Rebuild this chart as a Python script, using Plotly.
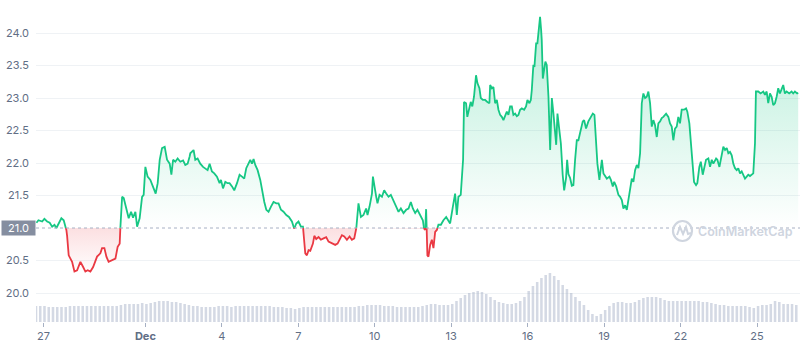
import numpy as np
import pandas as pd
import plotly.graph_objects as go

# ---------------- data ----------------
START = pd.Timestamp("2021-11-27 00:00")
BASELINE = 21.0

# hours offset from START for each price sample
price_hours = [-6.6,-4.7,-1.2,0.9,3.5,5.9,8.2,10.4,12.2,14.4,16.9,19.1,20.7,21.6,22.3,23.8,27.0,29.2,31.7,34.8,
37.4,39.5,41.7,44.2,46.8,48.9,50.5,53.6,55.2,57.4,59.3,61.4,64.6,67.8,69.9,71.8,72.5,74.1,75.6,78.1,
80.3,82.5,84.4,86.6,88.2,90.6,92.9,94.4,96.0,98.1,100.7,103.8,105.7,107.6,109.5,111.7,114.2,116.4,118.9,120.5,
122.1,124.2,126.4,128.9,131.5,133.6,135.8,137.7,
138.3,141.4,143.0,145.2,147.7,150.3,152.4,154.6,156.5,158.7,160.9,163.4,165.9,167.2,169.1,171.3,173.4,175.3,177.6,179.7,
182.3,184.7,187.0,189.1,191.0,193.2,194.8,196.4,197.9,199.5,201.7,204.2,205.8,208.0,209.9,212.0,214.3,216.7,219.3,221.4,
223.7,226.1,228.7,231.2,234.0,236.2,238.1,240.2,242.5,244.4,245.6,246.6,248.1,249.7,251.3,253.8,255.1,256.9,259.1,261.3,
263.8,266.3,268.5,271.7,274.8,277.0,279.5,281.1,283.3,285.8,288.3,
290.5,292.7,294.5,295.8,296.7,299.0,301.4,303.9,305.2,307.1,309.4,310.3,311.5,313.4,314.6,316.5,318.8,320.9,322.8,325.0,
327.2,329.7,332.2,334.4,336.6,339.1,341.6,343.8,346.0,347.9,350.1,352.2,354.8,357.3,358.5,359.5,360.4,361.1,361.6,362.6,
364.2,365.8,367.3,368.9,370.5,372.0,374.3,376.7,379.3,381.4,383.0,385.6,387.7,389.3,390.8,393.0,393.9,
395.2,396.1,398.0,399.2,401.1,402.4,403.9,405.5,407.4,408.7,410.6,411.9,413.8,416.0,418.1,420.0,420.7,422.3,423.8,425.4,
427.0,428.5,430.1,431.7,433.2,434.8,436.4,437.9,439.5,441.1,442.6,444.2,445.8,447.3,448.9,450.5,452.7,454.5,455.8,457.7,
459.0,459.9,461.4,462.4,464.0,465.2,467.1,467.7,468.7,469.3,470.3,471.5,472.7,474.0,475.6,477.2,478.8,480.3,481.9,482.9,
484.1,486.0,487.3,
489.0,490.4,492.2,493.2,494.4,496.0,497.6,499.1,500.7,502.3,503.8,506.1,507.9,509.2,511.0,513.2,515.4,517.4,518.9,520.5,
521.7,523.6,525.9,527.4,529.0,530.6,533.0,534.4,536.2,537.5,539.4,541.5,543.1,544.7,546.2,547.8,549.4,550.9,552.5,554.1,
555.6,557.2,558.8,560.3,561.9,563.5,565.0,566.6,568.2,569.7,571.3,572.9,574.4,576.0,577.6,579.1,580.7,582.3,583.8,586.4,
588.5,590.1,591.7,593.2,594.8,596.4,597.9,599.5,
601.1,603.3,605.2,606.4,608.3,609.6,611.5,612.7,614.6,615.8,617.7,619.1,620.9,622.2,624.0,626.2,627.8,629.4,630.9,633.5,
634.7,636.6,638.8,640.3,641.9,643.5,645.0,646.6,648.2,649.7,651.3,652.9,654.4,656.0,657.6,659.1,660.7,662.3,663.8,665.4,
667.0,668.5,670.1,671.0,673.2,675.4,677.9,679.5,681.1,682.6,684.2,685.8,687.3,688.9,690.5,692.0,693.6,695.2,696.7,698.3,
699.9,702.3,704.6,706.1,707.7,709.8,710.8]

prices = [21.08,21.12,21.10,21.14,21.10,21.08,21.02,21.05,21.00,21.08,21.15,21.12,21.02,20.97,20.88,20.58,20.48,20.33,20.35,20.48,
20.40,20.33,20.35,20.33,20.40,20.51,20.56,20.61,20.69,20.69,20.56,20.48,20.51,20.53,20.71,20.76,21.02,21.48,21.46,21.28,
21.15,21.25,21.16,21.25,21.02,21.15,21.48,21.51,21.94,21.79,21.74,21.61,21.53,21.69,22.05,22.23,22.25,22.05,21.99,21.82,
22.05,22.02,22.07,22.02,22.04,21.97,21.99,22.10,
22.15,22.20,22.05,22.07,21.99,21.94,21.92,21.89,21.99,21.87,21.84,21.79,21.69,21.74,21.61,21.71,21.69,21.69,21.64,21.58,
21.69,21.82,21.79,21.76,21.92,21.99,22.05,21.99,22.06,21.97,21.89,21.74,21.58,21.40,21.28,21.25,21.33,21.40,21.38,21.38,
21.28,21.25,21.20,21.17,21.10,20.99,21.07,21.10,21.02,21.02,20.82,20.61,20.58,20.66,20.65,20.76,20.88,20.83,20.86,20.82,
20.84,20.86,20.79,20.76,20.74,20.76,20.84,20.89,20.87,20.82,20.87,
20.82,20.84,20.97,21.23,21.38,21.17,21.20,21.30,21.20,21.33,21.53,21.79,21.64,21.48,21.38,21.51,21.48,21.58,21.53,21.48,
21.51,21.43,21.33,21.25,21.30,21.23,21.28,21.30,21.40,21.30,21.23,21.28,21.20,21.12,20.99,20.97,21.29,20.87,20.58,20.56,
20.74,20.82,20.69,20.94,20.97,21.05,21.05,21.12,21.17,21.12,21.07,21.33,21.53,21.20,21.48,21.51,21.74,
22.05,22.94,22.92,22.71,22.87,22.94,22.87,23.02,23.35,23.23,23.15,23.00,22.97,22.97,22.94,22.92,23.20,23.15,23.17,22.92,
22.97,22.82,22.74,22.71,22.66,22.74,22.79,22.74,22.87,22.87,22.74,22.76,22.72,22.74,22.82,22.84,22.82,22.87,22.97,22.92,
22.97,23.12,23.51,23.48,23.84,23.84,24.10,24.25,24.05,23.89,23.30,23.46,23.56,23.51,23.02,22.20,23.00,22.76,22.40,22.28,
22.76,22.51,22.30,
21.82,21.58,21.77,22.05,21.83,21.77,21.65,21.66,22.05,22.35,22.35,22.51,22.64,22.66,22.53,22.64,22.71,22.76,22.74,22.25,
21.99,21.74,22.05,21.84,21.79,21.76,21.79,21.74,21.64,21.71,21.64,21.51,21.48,21.43,21.30,21.35,21.28,21.43,21.64,21.76,
21.71,21.89,21.97,21.92,22.15,22.92,23.07,23.00,23.02,23.10,22.92,22.56,22.66,22.58,22.40,22.61,22.64,22.69,22.71,22.76,
22.71,22.61,22.56,22.35,22.53,22.56,22.71,22.61,
22.82,22.82,22.84,22.79,22.61,22.35,21.84,21.71,21.66,21.69,21.94,22.02,21.82,21.94,22.05,22.07,21.94,22.05,21.99,22.07,
22.05,21.94,22.10,22.25,22.20,22.23,22.15,22.17,22.12,21.99,21.92,21.89,21.92,21.84,21.87,21.82,21.76,21.79,21.82,21.80,
21.82,21.84,22.30,23.10,23.10,23.07,23.10,23.05,23.10,22.92,23.07,23.02,22.89,22.92,23.02,23.15,23.07,23.15,23.20,23.07,
23.10,23.07,23.10,23.07,23.10,23.07,23.08]

# 4-hourly volume (USD millions), first bar at START - 7h
VOL_START = START - pd.Timedelta(hours=7)
volumes = [40,40,40,37.5,37.5,37.5,37.5,37.5,40,40,40,40,40,40,40,40,40,40,40,40,
42.5,45,45,45,45,47.5,45,47.5,50,52.5,52.5,52.5,50,50,47.5,45,42.5,40,40,37.5,
37.5,37.5,37.5,40,40,40,37.5,40,40,40,40,40,40,40,40,40,37.5,37.5,37.5,35,
35,32.5,35,37.5,37.5,37.5,37.5,37.5,37.5,37.5,37.5,37.5,37.5,37.5,37.5,37.5,40,40,42.5,42.5,
42.5,42.5,40,40,40,37.5,37.5,37.5,37.5,37.5,37.5,40,42.5,45,45,42.5,42.5,42.5,45,52.5,
60,67.5,72.5,75,77.5,75,70,62.5,55,50,47.5,45,45,47.5,52.5,62.5,77.5,90,100,110,
117.5,122.5,115,105,92.5,82.5,72.5,62.5,52.5,42.5,30,20,15,20,30,40,47.5,50,50,47.5,
47.5,50,55,60,62.5,62.5,62.5,60,55,52.5,52.5,52.5,52.5,52.5,52.5,52.5,52.5,50,50,47.5,
45,42.5,42.5,40,40,40,40,40,37.5,35,40,42.5,42.5,45,52.5,50,45,45,45,42.5]

x_tick_dates = ["2021-11-27", "2021-12-01", "2021-12-04", "2021-12-07", "2021-12-10",
                "2021-12-13", "2021-12-16", "2021-12-19", "2021-12-22", "2021-12-25"]
x_tick_labels = ["27", "<b>Dec</b>", "4", "7", "10", "13", "16", "19", "22", "25"]
y_tick_vals = [20.0, 20.5, 21.5, 22.0, 22.5, 23.0, 23.5, 24.0]
y_tick_labels = ["20.0", "20.5", "21.5", "22.0", "22.5", "23.0", "23.5", "24.0"]

assert len(price_hours) == len(prices), (len(price_hours), len(prices))

# ------------- split line at the baseline -------------
t = np.array(price_hours, float)
v = np.array(prices, float)
tt, vv = [t[0]], [v[0]]
for i in range(1, len(t)):
    a, b = v[i - 1], v[i]
    if (a - BASELINE) * (b - BASELINE) < 0:
        f = (BASELINE - a) / (b - a)
        tt.append(t[i - 1] + f * (t[i] - t[i - 1]))
        vv.append(BASELINE)
    tt.append(t[i])
    vv.append(b)
tt = np.array(tt)
vv = np.array(vv)
times = START + pd.to_timedelta(tt, unit="h")

up_line = np.where(vv >= BASELINE, vv, np.nan)
dn_line = np.where(vv <= BASELINE, vv, np.nan)
up_fill = np.maximum(vv, BASELINE)
dn_fill = np.minimum(vv, BASELINE)
base = np.full_like(vv, BASELINE)

GREEN = "#16c784"
RED = "#ea3943"

vol_times = pd.date_range(VOL_START, periods=len(volumes), freq="4h")

fig = go.Figure()

fig.add_trace(go.Bar(x=vol_times, y=volumes, yaxis="y2",
                     marker=dict(color="rgba(160,170,195,0.45)", line=dict(width=0)),
                     hoverinfo="skip"))

fig.add_trace(go.Scatter(x=times, y=base, mode="lines", line=dict(width=0), hoverinfo="skip"))
fig.add_trace(go.Scatter(x=times, y=up_fill, mode="lines", line=dict(width=0), fill="tonexty",
                         fillgradient=dict(type="vertical", start=BASELINE, stop=24.3,
                                           colorscale=[[0, "rgba(22,199,132,0.0)"],
                                                       [1, "rgba(22,199,132,0.32)"]]),
                         hoverinfo="skip"))
fig.add_trace(go.Scatter(x=times, y=base, mode="lines", line=dict(width=0), hoverinfo="skip"))
fig.add_trace(go.Scatter(x=times, y=dn_fill, mode="lines", line=dict(width=0), fill="tonexty",
                         fillgradient=dict(type="vertical", start=20.3, stop=BASELINE,
                                           colorscale=[[0, "rgba(234,57,67,0.0)"],
                                                       [1, "rgba(234,57,67,0.16)"]]),
                         hoverinfo="skip"))

fig.add_trace(go.Scatter(x=times, y=up_line, mode="lines", line=dict(color=GREEN, width=1.8),
                         connectgaps=False))
fig.add_trace(go.Scatter(x=times, y=dn_line, mode="lines", line=dict(color=RED, width=1.8),
                         connectgaps=False))

x0 = START - pd.Timedelta(hours=7)
x1 = START + pd.Timedelta(hours=712.5)

TICK_FONT = dict(family="Inter, Roboto, sans-serif", size=11, color="#616e85")

fig.update_layout(
    width=800, height=344,
    margin=dict(l=36, r=0, t=0, b=22),
    paper_bgcolor="white", plot_bgcolor="white",
    showlegend=False, bargap=0.4,
    xaxis=dict(type="date", range=[x0, x1], tickvals=x_tick_dates, ticktext=x_tick_labels,
               ticks="outside", ticklen=4, tickcolor="#a6b0c3", showgrid=False,
               zeroline=False, showline=False, tickfont=TICK_FONT),
    yaxis=dict(range=[19.554, 24.508], tickvals=y_tick_vals, ticktext=y_tick_labels,
               showgrid=True, gridcolor="#eff2f5", gridwidth=1, zeroline=False,
               showline=False, ticks="", tickfont=TICK_FONT, ticklabelstandoff=6),
    yaxis2=dict(overlaying="y", range=[0, 805], visible=False),
)

# baseline dotted line
fig.add_shape(type="line", xref="paper", x0=0, x1=1, yref="y", y0=BASELINE, y1=BASELINE,
              line=dict(color="#a6b0c3", width=1, dash="dot"), layer="above")

# baseline price label
fig.add_annotation(xref="paper", x=0, xanchor="right", yref="y", y=BASELINE, yanchor="middle",
                   text="21.0", showarrow=False, bgcolor="#858ea0", width=31, height=12,
                   borderpad=1, font=dict(family="Inter, Roboto, sans-serif", size=11, color="white"))

# watermark
WM = "#cfd5df"
fig.add_shape(type="circle", xref="paper", yref="paper",
              x0=(673 - 36) / 764, x1=(692 - 36) / 764,
              y0=(322 - 241) / 322, y1=(322 - 221) / 322,
              line=dict(color=WM, width=2.2), layer="above")
fig.add_shape(type="path", xref="paper", yref="paper",
              path="M {:.4f},{:.4f} L {:.4f},{:.4f} L {:.4f},{:.4f} L {:.4f},{:.4f} L {:.4f},{:.4f} L {:.4f},{:.4f}".format(
                  (677 - 36) / 764, (322 - 235) / 322,
                  (680 - 36) / 764, (322 - 227) / 322,
                  (683 - 36) / 764, (322 - 234) / 322,
                  (686 - 36) / 764, (322 - 227) / 322,
                  (688 - 36) / 764, (322 - 234) / 322,
                  (691 - 36) / 764, (322 - 233) / 322),
              line=dict(color=WM, width=2), layer="above")
fig.add_annotation(xref="paper", yref="paper", x=(696 - 36) / 764, xanchor="left",
                   y=(322 - 231) / 322, yanchor="middle", text="CoinMarketCap", showarrow=False,
                   font=dict(family="Inter, Roboto, sans-serif", size=12.5, color=WM, weight=600))

fig.write_html("out.html")
